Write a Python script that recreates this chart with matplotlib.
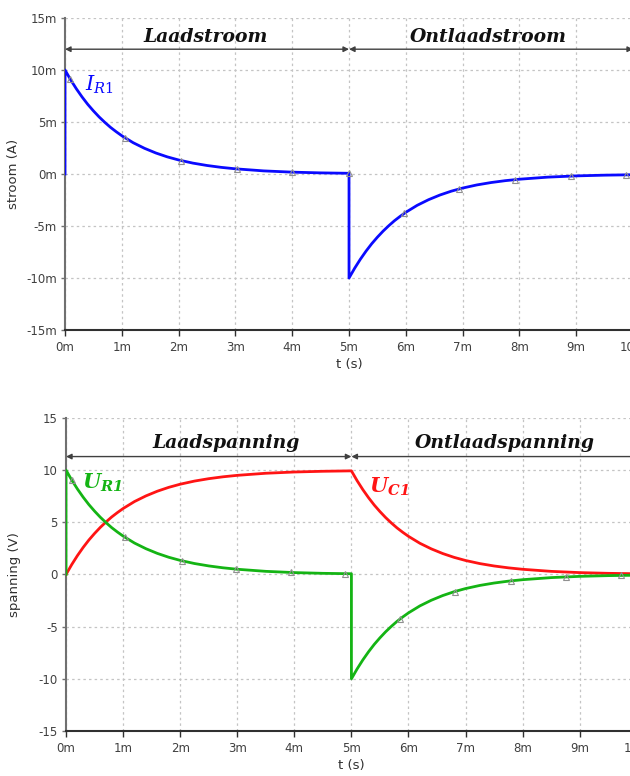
import matplotlib
matplotlib.use("Agg")
import matplotlib.pyplot as plt

plt.rcParams["mathtext.fontset"] = "dejavuserif"

# ---------------------------------------------------
# DATA (t in ms)
# ---------------------------------------------------
t_half = [0, 0.1, 0.2, 0.3, 0.4, 0.5, 0.6, 0.7, 0.8, 0.9, 1.0,
          1.2, 1.4, 1.6, 1.8, 2.0, 2.25, 2.5, 2.75, 3.0, 3.5, 4.0, 4.5, 5.0]
t_half2 = [5, 5.1, 5.2, 5.3, 5.4, 5.5, 5.6, 5.7, 5.8, 5.9, 6.0,
           6.2, 6.4, 6.6, 6.8, 7.0, 7.25, 7.5, 7.75, 8.0, 8.5, 9.0, 9.5, 10.0]

# decaying part (same shape for current in mA and U_R1 / U_C1 in V)
decay = [10, 9.05, 8.19, 7.41, 6.70, 6.07, 5.49, 4.97, 4.49, 4.07, 3.68,
         3.01, 2.47, 2.02, 1.65, 1.35, 1.05, 0.82, 0.64, 0.50, 0.30,
         0.18, 0.11, 0.07]
rise = [0, 0.95, 1.81, 2.59, 3.30, 3.93, 4.51, 5.03, 5.51, 5.93, 6.32,
        6.99, 7.53, 7.98, 8.35, 8.65, 8.95, 9.18, 9.36, 9.50, 9.70,
        9.82, 9.89, 9.93]

# current I_R1 (mA)
i_t = [0] + t_half + t_half2
i_val = [0] + decay + [-v for v in decay]

# U_R1 (V)
ur_t = [0] + t_half + t_half2
ur_val = [0] + decay + [-v for v in decay]

# U_C1 (V)
uc_t = t_half + t_half2
uc_val = rise + [v * 0.993 for v in decay]

# markers
i_mark_t = [0.09, 1.06, 2.05, 3.02, 4.0, 5.0, 5.97, 6.94, 7.92, 8.9, 9.88]
i_mark_v = [9.14, 3.46, 1.29, 0.49, 0.18, 0.07, -3.79, -1.44, -0.54, -0.20, -0.08]
ur_mark_t = [0.1, 1.03, 2.03, 2.98, 3.94, 4.89, 5.85, 6.81, 7.79, 8.76, 9.72]
ur_mark_v = [9.05, 3.57, 1.31, 0.51, 0.19, 0.08, -4.27, -1.64, -0.61, -0.23, -0.09]

x_ticks = list(range(0, 11))
x_labels = [f"{x}m" for x in x_ticks]
y_ticks = [-15, -10, -5, 0, 5, 10, 15]
y_labels_top = ["-15m", "-10m", "-5m", "0m", "5m", "10m", "15m"]
y_labels_bot = ["-15", "-10", "-5", "0", "5", "10", "15"]

BLUE = "#0a0aff"
GREEN = "#14b414"
RED = "#ff1414"
TXT = "#404040"

fig = plt.figure(figsize=(6.3, 7.76), dpi=100)
ax1 = fig.add_axes([0.1032, 0.5747, 0.9016, 0.4021])
ax2 = fig.add_axes([0.1048, 0.058, 0.906, 0.4034])


def style_axis(ax, ylabels, ylabel):
    ax.set_xlim(0, 10)
    ax.set_ylim(-15, 15)
    ax.set_xticks(x_ticks)
    ax.set_xticklabels(x_labels)
    ax.set_yticks(y_ticks)
    ax.set_yticklabels(ylabels)
    ax.grid(True, color="#c4c4c4", linestyle=(0, (2, 2.5)), linewidth=0.9)
    ax.set_axisbelow(True)
    for s in ["top", "right"]:
        ax.spines[s].set_visible(False)
    ax.spines["left"].set_color("#707070")
    ax.spines["left"].set_linewidth(1.5)
    ax.spines["bottom"].set_color("#303030")
    ax.spines["bottom"].set_linewidth(1.5)
    ax.tick_params(axis="x", length=4, width=1, color="#303030",
                   labelsize=8.5, labelcolor=TXT, pad=4)
    ax.tick_params(axis="y", length=3, width=1, color="#707070",
                   labelsize=8.5, labelcolor=TXT, pad=3)
    ax.set_xlabel("t (s)", fontsize=9.5, color="#303030", labelpad=3)
    ax.set_ylabel(ylabel, fontsize=9.5, color="#303030")
    ax.yaxis.set_label_coords(-0.079, 0.5)


def span_arrow(ax, x0, x1, y, label, lx, ly):
    ax.annotate("", xy=(x0, y), xytext=(x1, y),
                arrowprops=dict(arrowstyle="<|-|>", color="#404040",
                                lw=1.0, mutation_scale=8,
                                shrinkA=0, shrinkB=0))
    ax.text(lx, ly, label, family="DejaVu Serif", style="italic",
            weight="bold", fontsize=13.5, ha="center", va="center",
            color="#111111")


# ---------------------------------------------------
# TOP: current
# ---------------------------------------------------
style_axis(ax1, y_labels_top, "stroom (A)")
ax1.plot(i_t, i_val, color=BLUE, lw=2, solid_joinstyle="round", zorder=3)
ax1.plot(i_mark_t, i_mark_v, linestyle="none", marker="^", ms=4,
         mfc="none", mec="#909090", mew=0.8, zorder=4)
span_arrow(ax1, 0, 5, 12, "Laadstroom", 2.48, 13.2)
span_arrow(ax1, 5, 10, 12, "Ontlaadstroom", 7.45, 13.2)
ax1.text(0.35, 8.6, r"$I_{R1}$", color=BLUE, fontsize=15,
         ha="left", va="center")

# ---------------------------------------------------
# BOTTOM: voltage
# ---------------------------------------------------
style_axis(ax2, y_labels_bot, "spanning (V)")
ax2.plot(uc_t, uc_val, color=RED, lw=2, solid_joinstyle="round", zorder=3)
ax2.plot(ur_t, ur_val, color=GREEN, lw=2, solid_joinstyle="round", zorder=3)
ax2.plot(ur_mark_t, ur_mark_v, linestyle="none", marker="^", ms=4,
         mfc="none", mec="#909090", mew=0.8, zorder=4)
span_arrow(ax2, 0, 5, 11.3, "Laadspanning", 2.8, 12.6)
span_arrow(ax2, 5, 10, 11.3, "Ontlaadspanning", 7.69, 12.6)
ax2.text(0.28, 8.8, r"$\mathbfit{U}_{\mathbfit{R1}}$", color=GREEN,
         fontsize=15, ha="left", va="center")
ax2.text(5.3, 8.4, r"$\mathbfit{U}_{\mathbfit{C1}}$", color=RED,
         fontsize=15, ha="left", va="center")

fig.savefig("out.png", dpi=100)
